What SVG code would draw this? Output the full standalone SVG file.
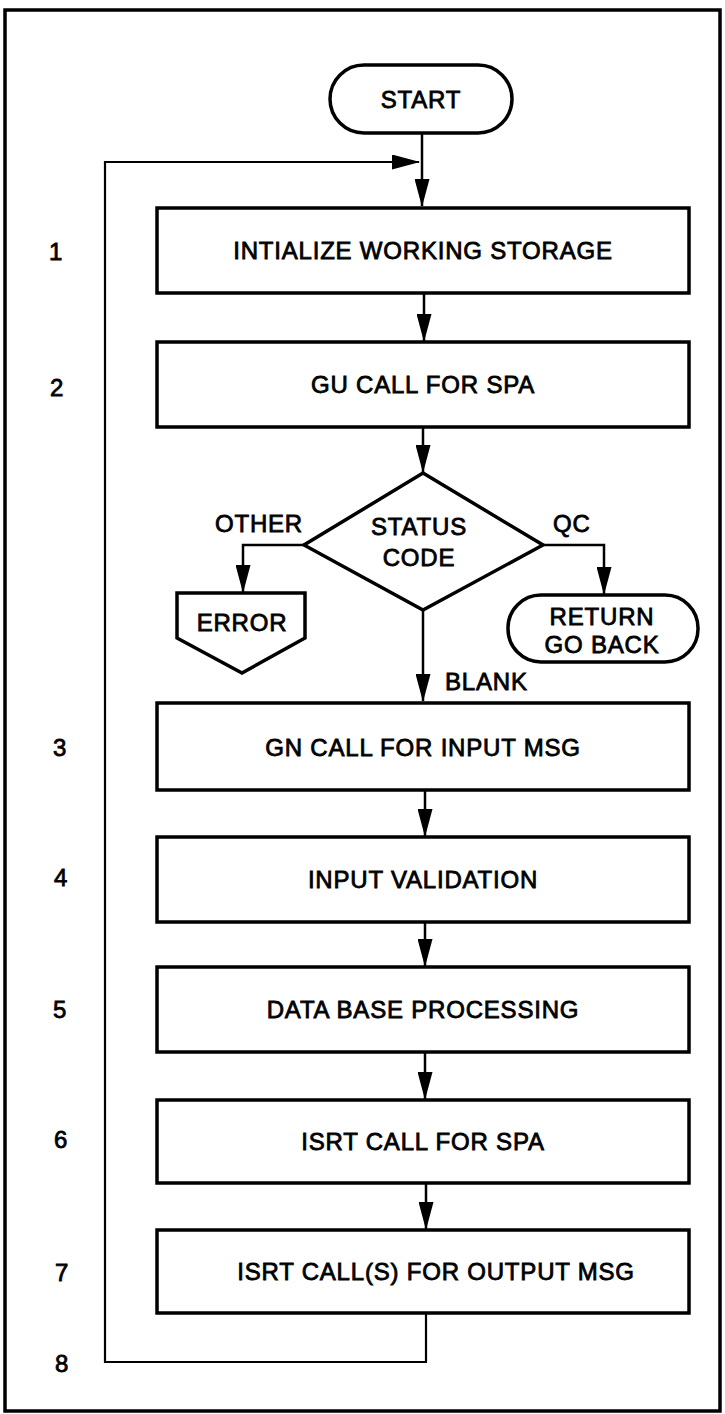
<svg xmlns="http://www.w3.org/2000/svg" width="725" height="1414" viewBox="0 0 725 1414">
<style>
.t{font-family:"Liberation Sans",Arial,sans-serif;font-weight:normal;font-size:24px;letter-spacing:0.8px;fill:#000;stroke:#000;stroke-width:0.8;text-anchor:middle}
.s{font-family:"Liberation Sans",Arial,sans-serif;font-weight:normal;font-size:24px;letter-spacing:0.8px;fill:#000;stroke:#000;stroke-width:0.8}
.box{fill:#fff;stroke:#000;stroke-width:3.5}
.ln{fill:none;stroke:#000;stroke-width:2.5}
.lp{fill:none;stroke:#000;stroke-width:2.2}
</style>
<defs>
<marker id="ah" markerUnits="userSpaceOnUse" viewBox="0 0 28 15" refX="27" refY="7.5" markerWidth="28" markerHeight="15" orient="auto">
<path d="M0,0 L28,7.5 L0,15 z" fill="#000"/>
</marker>
</defs>
<rect x="5" y="10" width="715" height="1401" fill="#fff" stroke="#000" stroke-width="3.5"/>

<g id="labels">
<text class="t" x="56" y="260">1</text>
<text class="t" x="57" y="396">2</text>
<text class="t" x="60" y="756">3</text>
<text class="t" x="61" y="886">4</text>
<text class="t" x="60" y="1018">5</text>
<text class="t" x="61" y="1148">6</text>
<text class="t" x="62" y="1281">7</text>
<text class="t" x="62" y="1372">8</text>
</g>

<g id="connectors">
<line class="ln" x1="422" y1="133" x2="422" y2="206" marker-end="url(#ah)"/>
<path class="lp" d="M426,1313 V1362 H105 V162 H419" marker-end="url(#ah)"/>
<line class="ln" x1="424" y1="293" x2="424" y2="341" marker-end="url(#ah)"/>
<line class="ln" x1="423" y1="427" x2="423" y2="472" marker-end="url(#ah)"/>
<path class="ln" d="M304,545 H243 V592" marker-end="url(#ah)"/>
<path class="ln" d="M543,545 H604 V594" marker-end="url(#ah)"/>
<line class="ln" x1="423" y1="610" x2="423" y2="701" marker-end="url(#ah)"/>
<line class="ln" x1="425" y1="790" x2="425" y2="836" marker-end="url(#ah)"/>
<line class="ln" x1="425" y1="922" x2="425" y2="966" marker-end="url(#ah)"/>
<line class="ln" x1="425" y1="1052" x2="425" y2="1099" marker-end="url(#ah)"/>
<line class="ln" x1="426" y1="1183" x2="426" y2="1229" marker-end="url(#ah)"/>
<text class="s" x="445" y="690">BLANK</text>
<text class="s" x="215" y="532">OTHER</text>
<text class="s" x="553" y="532">QC</text>
</g>

<g id="start">
<rect class="box" x="330" y="65" width="182" height="68" rx="34" ry="34"/>
<text class="t" x="421" y="108">START</text>
</g>

<g id="step1">
<rect class="box" x="157" y="208" width="532" height="85"/>
<text class="t" x="423" y="259">INTIALIZE WORKING STORAGE</text>
</g>

<g id="step2">
<rect class="box" x="157" y="342" width="532" height="85"/>
<text class="t" x="423" y="393">GU CALL FOR SPA</text>
</g>

<g id="decision">
<polygon class="box" points="423,473 543,545 423,610 304,545"/>
<text class="t" x="419" y="535">STATUS</text>
<text class="t" x="419" y="566">CODE</text>
</g>

<g id="error">
<polygon class="box" points="177,593 305,593 305,638 242,673 177,638"/>
<text class="t" x="242" y="631">ERROR</text>
</g>

<g id="return">
<rect class="box" x="508" y="595" width="190" height="67" rx="33" ry="33"/>
<text class="t" x="602" y="625">RETURN</text>
<text class="t" x="602" y="653">GO BACK</text>
</g>

<g id="step3">
<rect class="box" x="157" y="703" width="532" height="87"/>
<text class="t" x="423" y="756">GN CALL FOR INPUT MSG</text>
</g>

<g id="step4">
<rect class="box" x="157" y="837" width="532" height="85"/>
<text class="t" x="423" y="888">INPUT VALIDATION</text>
</g>

<g id="step5">
<rect class="box" x="157" y="967" width="532" height="85"/>
<text class="t" x="423" y="1018">DATA BASE PROCESSING</text>
</g>

<g id="step6">
<rect class="box" x="157" y="1100" width="532" height="83"/>
<text class="t" x="423" y="1150">ISRT CALL FOR SPA</text>
</g>

<g id="step7">
<rect class="box" x="157" y="1230" width="532" height="83"/>
<text class="t" x="436" y="1280">ISRT CALL(S) FOR OUTPUT MSG</text>
</g>
</svg>
